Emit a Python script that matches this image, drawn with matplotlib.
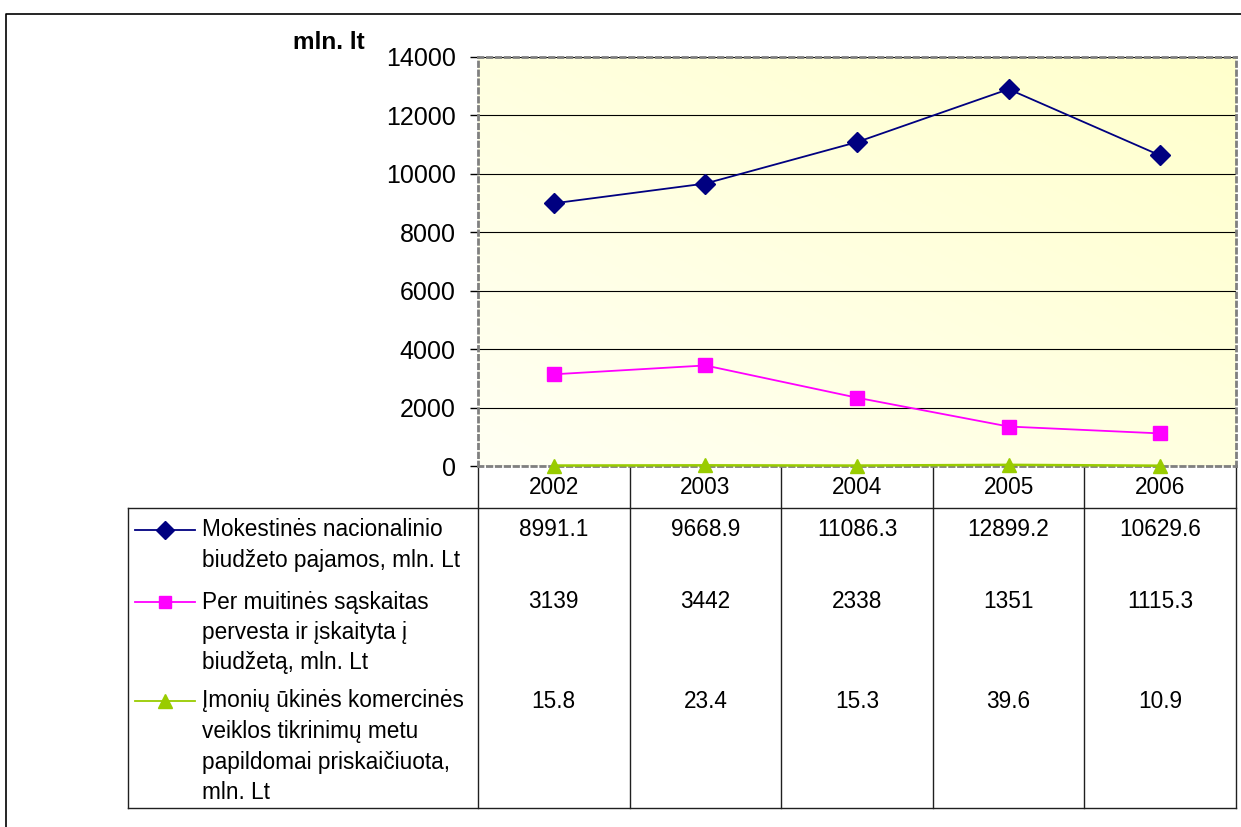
import numpy as np
import matplotlib
matplotlib.use("Agg")
import matplotlib.pyplot as plt
from matplotlib.colors import LinearSegmentedColormap

plt.rcParams['font.family'] = ['Liberation Sans', 'DejaVu Sans']

# duomenys
years = ['2002', '2003', '2004', '2005', '2006']
pajamos = [8991.1, 9668.9, 11086.3, 12899.2, 10629.6]
muitine = [3139, 3442, 2338, 1351, 1115.3]
tikrinimai = [15.8, 23.4, 15.3, 39.6, 10.9]
pajamos_txt = ['8991.1', '9668.9', '11086.3', '12899.2', '10629.6']
muitine_txt = ['3139', '3442', '2338', '1351', '1115.3']
tikrinimai_txt = ['15.8', '23.4', '15.3', '39.6', '10.9']
label1 = ['Mokestinės nacionalinio', 'biudžeto pajamos, mln. Lt']
label2 = ['Per muitinės sąskaitas', 'pervesta ir įskaityta į', 'biudžetą, mln. Lt']
label3 = ['Įmonių ūkinės komercinės', 'veiklos tikrinimų metu',
          'papildomai priskaičiuota,', 'mln. Lt']
yticks = [0, 2000, 4000, 6000, 8000, 10000, 12000, 14000]

W, H = 1241, 827
fig = plt.figure(figsize=(W / 100, H / 100), dpi=100)

# fono asis pikseliais (rėmas + lentelė)
bg = fig.add_axes([0, 0, 1, 1], zorder=0)
bg.set_xlim(0, W)
bg.set_ylim(H, 0)
bg.axis('off')

L, R, T, B = 478, 1236, 57, 466
ax = fig.add_axes([L / W, 1 - B / H, (R - L) / W, (B - T) / H], zorder=2)
ax.patch.set_alpha(0)

# gradientas
gx, gy = np.meshgrid(np.linspace(0, 1, 200), np.linspace(1, 0, 200))
w = 0.15 + 0.85 * (gx * 0.5 + gy * 0.5)
cmap = LinearSegmentedColormap.from_list('g', ['#FFFFFA', '#FFFFCC'])
ax.imshow(w, cmap=cmap, vmin=0, vmax=1, extent=[-0.5, 4.5, 0, 14000],
          aspect='auto', zorder=0)

x = np.arange(len(years))
ax.plot(x, pajamos, color='#000080', lw=1.3, marker='D', ms=10.5, zorder=4)
ax.plot(x, muitine, color='#FF00FF', lw=1.3, marker='s', ms=9.5, zorder=4)
ax.plot(x, tikrinimai, color='#99CC00', lw=1.8, marker='^', ms=10.5,
        zorder=4, clip_on=False)

ax.set_xlim(-0.5, 4.5)
ax.set_ylim(0, 14000)
ax.set_xticks([])
ax.set_yticks(yticks)
ax.set_yticklabels([str(v) for v in yticks], fontsize=18)
ax.tick_params(axis='y', length=6, width=1, pad=10, color='black')
ax.yaxis.grid(True, color='black', lw=0.8, zorder=1)
ax.set_axisbelow(True)
for s in ax.spines.values():
    s.set_color('#808080')
    s.set_linewidth(2)
    s.set_linestyle((0, (1.6, 1.6)))

bg.text(293, 49, 'mln. lt', fontsize=17.5, fontweight='bold', va='baseline', ha='left')

# išorinis rėmas
bg.plot([6, 6, W], [H, 14, 14], color='black', lw=1.2)

# lentelė
TL, TB, HB = 128, 808, 508
edges = [L + i * (R - L) / 5 for i in range(6)]
lc = '#202020'
for e in edges:
    bg.plot([e, e], [B, TB], color=lc, lw=1)
bg.plot([TL, TL], [HB, TB], color=lc, lw=1)
bg.plot([TL, R], [HB, HB], color=lc, lw=1)
bg.plot([TL, R], [TB, TB], color=lc, lw=1)

fs = 16.3
for i, yr in enumerate(years):
    cx = (edges[i] + edges[i + 1]) / 2
    bg.text(cx, 488, yr, fontsize=fs, ha='center', va='center')

rows = [
    (label1, pajamos_txt, 530, '#000080', 'D', 9.5),
    (label2, muitine_txt, 602, '#FF00FF', 's', 9),
    (label3, tikrinimai_txt, 701, '#99CC00', '^', 10.5),
]
for lab, vals, y0, col, mk, ms in rows:
    bg.plot([135, 195], [y0, y0], color=col, lw=1.3)
    bg.plot([165], [y0], color=col, marker=mk, ms=ms, ls='none')
    for k, line in enumerate(lab):
        bg.text(202, y0 + k * 30.5, line, fontsize=fs, ha='left', va='center')
    for i, v in enumerate(vals):
        cx = (edges[i] + edges[i + 1]) / 2
        bg.text(cx, y0, v, fontsize=fs, ha='center', va='center')

fig.savefig('out.png', dpi=100)
